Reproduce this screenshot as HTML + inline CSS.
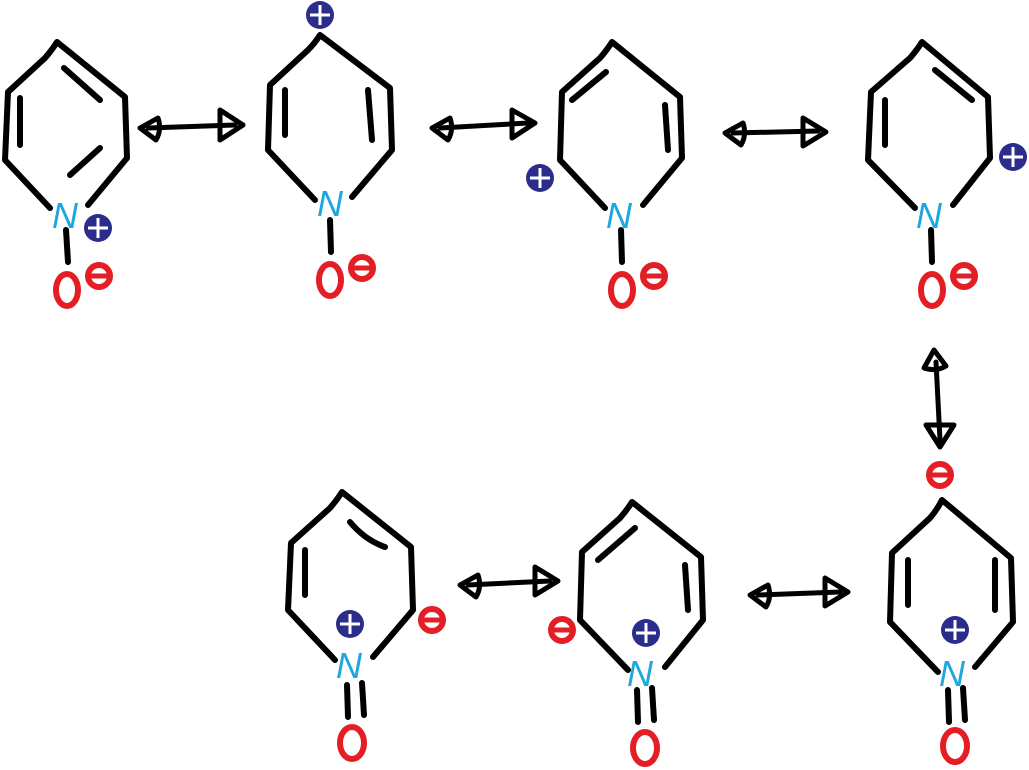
<!DOCTYPE html>
<html><head><meta charset="utf-8"><style>
html,body{margin:0;padding:0;background:#fff;width:1029px;height:770px;overflow:hidden}
svg{display:block}
.b{fill:none;stroke:#000;stroke-width:6;stroke-linecap:round;stroke-linejoin:round}
.a{fill:none;stroke:#000;stroke-width:5;stroke-linecap:round;stroke-linejoin:round}
.o{fill:none;stroke:#e31e25;stroke-width:6}
.n{font-family:"Liberation Sans",sans-serif;font-size:36px;fill:#1ea6e0;font-style:italic}
</style></head><body>
<svg width="1029" height="770" viewBox="0 0 1029 770">
<defs>
<g id="plus"><circle r="14" fill="#2b2d8c"/><path d="M0,-10V10M-10,0H10" stroke="#fff" stroke-width="3"/></g>
<g id="minus"><circle r="11" fill="none" stroke="#e31e25" stroke-width="6"/><path d="M-9,0H9" stroke="#e31e25" stroke-width="5"/></g>
</defs>

<!-- S1 -->
<path class="b" d="M57,42 Q52,50 45,58 L8,92 L5,160 L50,208 M88,205 L127,158 L125,97 L57,42"/>
<path class="b" d="M64,68 L100,100 M20,98 L20,145 M100,148 L70,175 M66,230 L68,262"/>
<text class="n" x="52" y="228">N</text>
<use href="#plus" x="98" y="228"/>
<ellipse class="o" cx="67" cy="290" rx="11" ry="16"/>
<use href="#minus" x="99" y="276"/>

<!-- S2 -->
<path class="b" d="M320,35 Q315,43 308,50 L270,85 L268,150 L315,200 M352,197 L392,150 L390,88 L320,35"/>
<path class="b" d="M285,90 L285,135 M368,90 L372,140 M330,220 L331,252"/>
<text class="n" x="317" y="216">N</text>
<use href="#plus" x="320" y="15"/>
<ellipse class="o" cx="330" cy="280" rx="11" ry="16"/>
<use href="#minus" x="362" y="268"/>

<!-- S3 -->
<path class="b" d="M612,42 Q607,50 600,58 L562,92 L560,160 L605,208 M643,205 L682,158 L680,97 L612,42"/>
<path class="b" d="M572,100 L606,72 M665,105 L668,150 M621,230 L622,262"/>
<text class="n" x="606" y="228">N</text>
<use href="#plus" x="540" y="178"/>
<ellipse class="o" cx="622" cy="290" rx="11" ry="16"/>
<use href="#minus" x="654" y="276"/>

<!-- S4 -->
<path class="b" d="M922,42 Q917,50 910,58 L871,92 L868,160 L915,208 M953,205 L990,158 L988,97 L922,42"/>
<path class="b" d="M935,70 L972,100 M885,100 L885,145 M931,230 L932,262"/>
<text class="n" x="916" y="228">N</text>
<use href="#plus" x="1013" y="157"/>
<ellipse class="o" cx="932" cy="290" rx="11" ry="16"/>
<use href="#minus" x="964" y="276"/>

<!-- S5 -->
<path class="b" d="M342,492 Q337,500 330,508 L291,543 L288,610 L335,660 M373,657 L413,610 L411,547 L342,492"/>
<path class="b" d="M350,522 Q365,540 385,547 M305,550 L305,595 M347,685 L348,717 M362,683 L364,715"/>
<text class="n" x="336" y="678">N</text>
<use href="#plus" x="350" y="624"/>
<use href="#minus" x="432" y="620"/>
<ellipse class="o" cx="352" cy="743" rx="12" ry="16"/>

<!-- S6 -->
<path class="b" d="M632,502 Q627,510 620,518 L582,552 L580,620 L628,670 M665,667 L703,620 L701,557 L632,502"/>
<path class="b" d="M598,560 L635,528 M685,565 L688,610 M637,690 L638,722 M652,688 L654,720"/>
<text class="n" x="627" y="686">N</text>
<use href="#plus" x="646" y="633"/>
<use href="#minus" x="562" y="630"/>
<ellipse class="o" cx="645" cy="748" rx="12" ry="16"/>

<!-- S7 -->
<path class="b" d="M942,500 Q937,510 930,518 L892,553 L890,622 L938,672 M975,667 L1013,622 L1011,558 L942,500"/>
<path class="b" d="M908,560 L908,605 M995,560 L995,610 M948,690 L949,722 M963,688 L965,720"/>
<text class="n" x="939" y="686">N</text>
<use href="#plus" x="955" y="630"/>
<use href="#minus" x="940" y="475"/>
<ellipse class="o" cx="955" cy="746" rx="12" ry="16"/>

<!-- arrows -->
<g class="a">
<path d="M148,128 L235,125"/><path d="M140,128 L158,118 Q162,130 156,140 Z"/><path d="M220,110 L243,125 L220,140 Z"/>
<path d="M440,128 L528,123"/><path d="M432,128 L450,118 Q454,130 448,140 Z"/><path d="M512,110 L535,123 L512,138 Z"/>
<path d="M733,133 L818,131"/><path d="M725,133 L743,123 Q747,135 741,145 Z"/><path d="M803,118 L826,132 L803,146 Z"/>
<path d="M468,585 L550,581"/><path d="M460,585 L478,575 Q482,587 476,597 Z"/><path d="M535,567 L558,581 L535,595 Z"/>
<path d="M758,595 L840,592"/><path d="M750,595 L768,585 Q772,597 766,607 Z"/><path d="M825,578 L848,592 L825,606 Z"/>
<path d="M936,362 L940,440"/><path d="M934,350 L924,368 Q936,372 946,366 Z"/><path d="M926,425 L940,447 L954,425 Z"/>
</g>
</svg>
</body></html>
